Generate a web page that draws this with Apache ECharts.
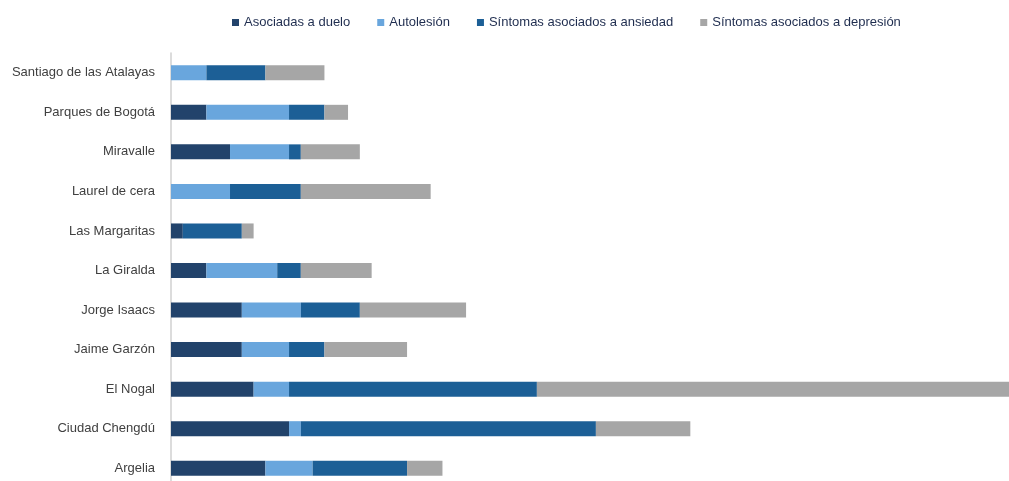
<!DOCTYPE html>
<html>
<head>
<meta charset="utf-8">
<script src="https://cdn.jsdelivr.net/npm/echarts@6/dist/echarts.min.js"></script>
<style>html,body{margin:0;padding:0;background:#fff}#c{width:1009px;height:481px}</style>
</head>
<body>
<div id="c"></div>
<script>
const categories = ["Argelia","Ciudad Chengdú","El Nogal","Jaime Garzón","Jorge Isaacs","La Giralda","Las Margaritas","Laurel de cera","Miravalle","Parques de Bogotá","Santiago de las Atalayas"];
const seriesNames = ["Asociadas a duelo","Autolesión","Síntomas asociados a ansiedad","Síntomas asociados a depresión"];
const duelo =      [8, 10, 7, 6, 6, 3, 1, 0, 5, 3, 0];
const autolesion = [4, 1, 3, 4, 5, 6, 0, 5, 5, 7, 3];
const ansiedad =   [8, 25, 21, 3, 5, 2, 5, 6, 1, 3, 5];
const depresion =  [3, 8, 40, 7, 9, 6, 1, 11, 5, 2, 5];
const colors = ["#22436b", "#69a6dd", "#1c5f96", "#a6a6a6"];
const values = [duelo, autolesion, ansiedad, depresion];

const chart = echarts.init(document.getElementById('c'));
chart.setOption({
  animation: false,
  textStyle: {fontFamily: "Liberation Sans"},
  legend: {
    top: 11, left: 227, itemWidth: 7, itemHeight: 7, itemGap: 27,
    icon: 'rect',
    textStyle: {color: '#1f2d4f', fontSize: 13, fontFamily: "Liberation Sans"},
    data: seriesNames
  },
  grid: {left: 171, right: 0, top: 53, height: 435, containLabel: false, outerBoundsMode: 'none'},
  xAxis: {type: 'value', min: 0, max: 71, show: false},
  yAxis: {
    type: 'category', data: categories,
    axisLine: {show: true, lineStyle: {color: '#d0d0d0', width: 1.5}},
    axisTick: {show: false},
    axisLabel: {color: '#404040', fontSize: 13, margin: 16, fontFamily: "Liberation Sans"}
  },
  series: seriesNames.map((n, i) => ({
    name: n, type: 'bar', stack: 'total', barWidth: 15,
    itemStyle: {color: colors[i]},
    data: values[i]
  }))
});
</script>
</body>
</html>
